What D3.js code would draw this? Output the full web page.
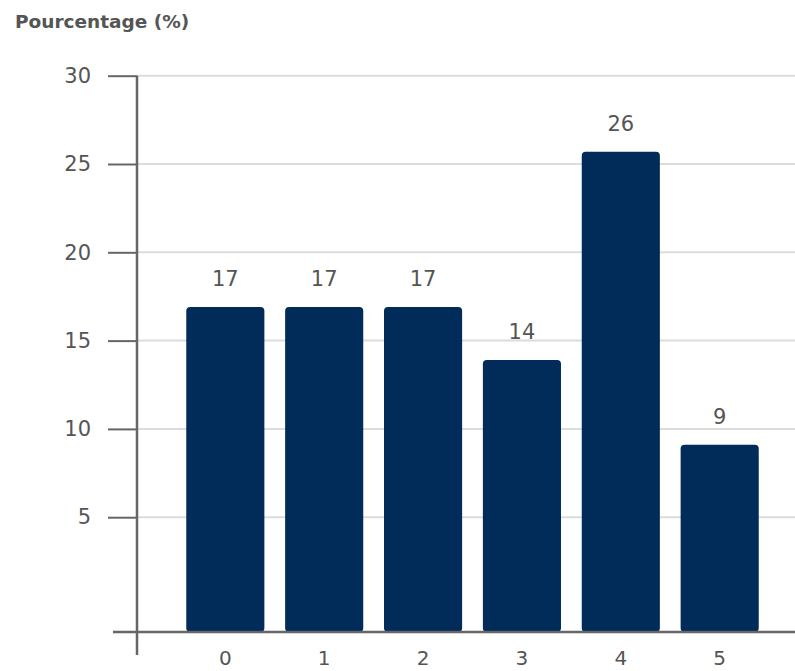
<!DOCTYPE html>
<html>
<head>
<meta charset="utf-8">
<script src="https://cdn.jsdelivr.net/npm/d3@7"></script>
<style>
  html, body { margin: 0; padding: 0; background: #fff; }
  svg { display: block; }
  text { font-family: "DejaVu Sans", "Noto Sans", sans-serif; fill: #555; }
</style>
</head>
<body>
<svg id="chart" width="795" height="671"></svg>
<script>
// Share of respondents by number of items (0 to 5)
const categories = ["0", "1", "2", "3", "4", "5"];
const values = [16.9, 16.9, 16.9, 13.9, 25.7, 9.1];
const yTicks = [5, 10, 15, 20, 25, 30];
const yTitle = "Pourcentage (%)";

const svg = d3.select("#chart");
const W = 795;

const x = d3.scaleBand()
  .domain(categories)
  .range([165.5, 779.5])
  .paddingInner(0.21)
  .paddingOuter(0.21);

const y = d3.scaleLinear()
  .domain([-1.5, 30])
  .range([632, 75.7]);

const axisX = 137;

// horizontal gridlines
svg.append("g")
  .selectAll("line")
  .data(yTicks)
  .join("line")
  .attr("x1", axisX)
  .attr("x2", W)
  .attr("y1", d => y(d))
  .attr("y2", d => y(d))
  .attr("stroke", "#dcdcdc")
  .attr("stroke-width", 2);

// y axis with outward ticks
const yAxis = d3.axisLeft(y)
  .tickValues(yTicks)
  .tickSize(29)
  .tickPadding(17)
  .tickFormat(d3.format("d"));

const gy = svg.append("g")
  .attr("transform", `translate(${axisX},0)`)
  .call(yAxis);
gy.select(".domain").remove();
gy.selectAll(".tick line").attr("stroke", "#666").attr("stroke-width", 2);
gy.selectAll(".tick text")
  .style("font-size", "21px")
  .style("font-family", "'DejaVu Sans', sans-serif")
  .attr("fill", "#555");

// vertical axis line, running below the baseline
svg.append("line")
  .attr("x1", axisX).attr("x2", axisX)
  .attr("y1", y(30)).attr("y2", 655)
  .attr("stroke", "#666").attr("stroke-width", 2.5);

// bars
svg.append("g")
  .selectAll("rect")
  .data(values)
  .join("rect")
  .attr("x", (d, i) => x(categories[i]))
  .attr("width", x.bandwidth())
  .attr("y", d => y(d))
  .attr("height", d => y(-1.5) - y(d))
  .attr("rx", 4)
  .attr("ry", 4)
  .attr("fill", "#012b59");

// baseline
svg.append("line")
  .attr("x1", 113).attr("x2", W)
  .attr("y1", y(-1.5)).attr("y2", y(-1.5))
  .attr("stroke", "#666").attr("stroke-width", 2.5);

// value labels
svg.append("g")
  .selectAll("text")
  .data(values)
  .join("text")
  .attr("x", (d, i) => x(categories[i]) + x.bandwidth() / 2)
  .attr("y", d => y(d) - 21)
  .attr("text-anchor", "middle")
  .style("font-size", "21px")
  .text(d => Math.round(d));

// category labels
svg.append("g")
  .selectAll("text")
  .data(categories)
  .join("text")
  .attr("x", d => x(d) + x.bandwidth() / 2)
  .attr("y", 665)
  .attr("text-anchor", "middle")
  .style("font-size", "20px")
  .text(d => d);

// axis title
svg.append("text")
  .attr("x", 15)
  .attr("y", 28)
  .style("font-size", "18.5px")
  .style("font-weight", "700")
  .text(yTitle);
</script>
</body>
</html>
